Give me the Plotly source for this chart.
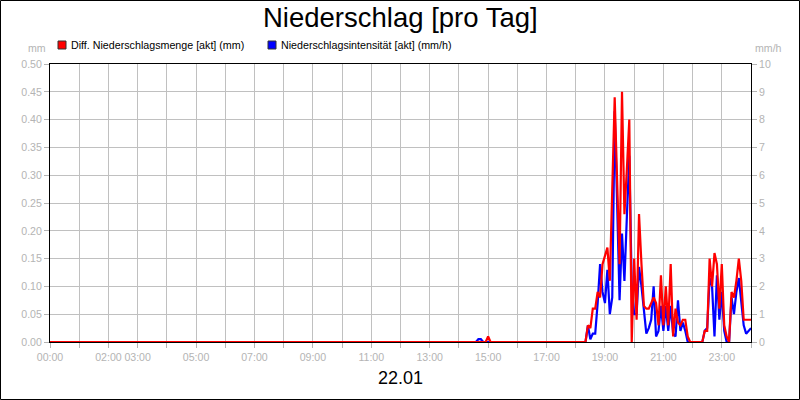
import plotly.graph_objects as go

# 5-minute readings of 22.01 (only the non-zero stretches and their edges)
times = ["00:00", "14:35", "14:40", "14:45", "14:50", "14:55", "15:00", "15:05",
         "18:20", "18:25", "18:30", "18:35", "18:40", "18:45", "18:50", "18:55",
         "19:00", "19:05", "19:10", "19:15", "19:20", "19:25", "19:30", "19:35",
         "19:40", "19:45", "19:50", "19:55", "20:00", "20:05", "20:10", "20:15",
         "20:20", "20:25", "20:30", "20:35", "20:40", "20:45", "20:50", "20:55",
         "21:00", "21:05", "21:10", "21:15", "21:20", "21:25", "21:30", "21:35",
         "21:40", "21:45", "21:50", "21:55", "22:00", "22:05", "22:10", "22:15",
         "22:20", "22:25", "22:30", "22:35", "22:40", "22:45", "22:50", "22:55",
         "23:00", "23:05", "23:10", "23:15", "23:20", "23:25", "23:30", "23:35",
         "23:40", "23:45", "23:50", "23:55", "24:00"]

rain_mm = [0, 0, 0, 0, 0, 0, 0.01, 0,
           0, 0.03, 0.025, 0.06, 0.06, 0.09, 0.08, 0.14,
           0.155, 0.17, 0.11, 0.27, 0.44, 0.29, 0.14, 0.45,
           0.23, 0.31, 0.40, 0, 0.15, 0.04, 0.23, 0.14,
           0.065, 0.06, 0.06, 0.07, 0.08, 0.07, 0.03, 0.12,
           0.03, 0.10, 0.03, 0.14, 0.01, 0.06, 0.035, 0.03,
           0.04, 0.04, 0.01, 0, 0, 0, 0, 0,
           0, 0.02, 0.02, 0.15, 0.10, 0.16, 0.14, 0.06,
           0.14, 0.03, 0.01, 0, 0.09, 0.08, 0.11, 0.15,
           0.11, 0.04, 0.04, 0.04, 0.04]

intensity_mmh = [0, 0, 0.1, 0.1, 0, 0, 0, 0,
                 0, 0.6, 0.1, 0.3, 0.3, 1.4, 2.8, 1.8,
                 1.4, 2.6, 1.0, 1.6, 8.3, 5.0, 1.5, 3.9,
                 2.2, 4.5, 6.7, 2.0, 1.0, 1.0, 2.7, 2.0,
                 1.0, 0.3, 0.5, 0.8, 2.0, 0.2, 0.4, 1.3,
                 0.4, 1.3, 0.4, 1.3, 0.3, 0.2, 1.5, 0.4,
                 0.7, 0.4, 0, 0, 0, 0, 0, 0,
                 0, 0.4, 0.5, 2.3, 2.0, 0.2, 2.4, 0.8,
                 1.8, 0.4, 0, 0, 1.6, 1.0, 1.8, 2.3,
                 1.4, 0.6, 0.3, 0.4, 0.5]

hour_ticks = list(range(25))
hour_labels = ["00:00", "", "02:00", "03:00", "", "05:00", "", "07:00", "",
               "09:00", "", "11:00", "", "13:00", "", "15:00", "", "17:00", "",
               "19:00", "", "21:00", "", "23:00", ""]

names = ["Diff. Niederschlagsmenge [akt] (mm)", "Niederschlagsintensität [akt] (mm/h)"]
colors = ["#ff0000", "#0000ff"]

W, H = 800, 400
L, R, T, B = 50, 49, 64, 58
GRAY = "#b4b4b4"
GRID = "#c0c0c0"
FONT = "Liberation Sans, Arial, sans-serif"


def to_hours(s):
    h, m = s.split(":")
    return int(h) + int(m) / 60


def px(x):
    return (x - L) / (W - L - R)


def py(y):
    return (H - B - y) / (H - T - B)


x_hours = [to_hours(t) for t in times]

fig = go.Figure()
# intensity on the primary (right) axis so the rain amount is drawn on top
fig.add_trace(go.Scatter(x=x_hours, y=intensity_mmh, mode="lines", yaxis="y",
                         line=dict(color=colors[1], width=2.2), cliponaxis=False,
                         showlegend=False, name=names[1]))
fig.add_trace(go.Scatter(x=x_hours, y=rain_mm, mode="lines", yaxis="y2",
                         line=dict(color=colors[0], width=2.2), cliponaxis=False,
                         showlegend=False, name=names[0]))

tickfont = dict(family=FONT, size=10.6, color=GRAY)

fig.update_layout(
    width=W, height=H,
    margin=dict(l=L, r=R, t=T, b=B),
    paper_bgcolor="white", plot_bgcolor="white",
    font=dict(family=FONT),
    xaxis=dict(range=[0, 24], tickvals=hour_ticks, ticktext=hour_labels,
               tickangle=0,
               showgrid=True, gridcolor=GRID, gridwidth=1,
               showline=True, linecolor="black", linewidth=1, mirror=True,
               ticks="outside", ticklen=5, tickcolor=GRAY, tickfont=tickfont,
               zeroline=False, layer="below traces", fixedrange=True),
    yaxis=dict(range=[0, 10], dtick=1, side="right",
               showgrid=True, gridcolor=GRID, gridwidth=1,
               showline=True, linecolor="black", linewidth=1,
               ticks="outside", ticklen=5, tickcolor=GRAY, tickfont=tickfont,
               zeroline=False, layer="below traces"),
    yaxis2=dict(range=[0, 0.5], dtick=0.05, tickformat=".2f", side="left",
                overlaying="y", showgrid=False,
                showline=True, linecolor="black", linewidth=1,
                ticks="outside", ticklen=5, tickcolor=GRAY, tickfont=tickfont,
                zeroline=False, layer="below traces"),
)

annotations = [
    dict(text="Niederschlag [pro Tag]", x=px(400), y=py(18), xanchor="center",
         yanchor="middle", font=dict(size=27.5, color="black")),
    dict(text="22.01", x=px(400), y=py(378), xanchor="center", yanchor="middle",
         font=dict(size=18, color="black")),
    dict(text="mm", x=px(48), y=py(48), xanchor="right", yanchor="middle",
         font=dict(size=10.6, color=GRAY)),
    dict(text="mm/h", x=px(753), y=py(48), xanchor="left", yanchor="middle",
         font=dict(size=10.6, color=GRAY)),
]
shapes = []
legend_x = [58, 268]
for name, color, lx in zip(names, colors, legend_x):
    shapes.append(dict(type="rect", xref="paper", yref="paper",
                       x0=px(lx), x1=px(lx + 8), y0=py(49), y1=py(41),
                       fillcolor=color, line=dict(color="#333333", width=1)))
    annotations.append(dict(text=name, x=px(lx + 11), y=py(45), xanchor="left",
                            yanchor="middle", font=dict(size=10.7, color="black")))
for a in annotations:
    a.update(xref="paper", yref="paper", showarrow=False)

# outer frame of the picture
shapes.append(dict(type="rect", xref="paper", yref="paper",
                   x0=px(0.5), x1=px(W - 0.5), y0=py(H - 0.5), y1=py(0.5),
                   line=dict(color="black", width=1), layer="above"))

fig.update_layout(annotations=annotations, shapes=shapes)

fig.write_html("out.html", config={"displayModeBar": False},
               post_script="document.body.style.margin='0';"
                           "document.body.style.overflow='hidden';")
